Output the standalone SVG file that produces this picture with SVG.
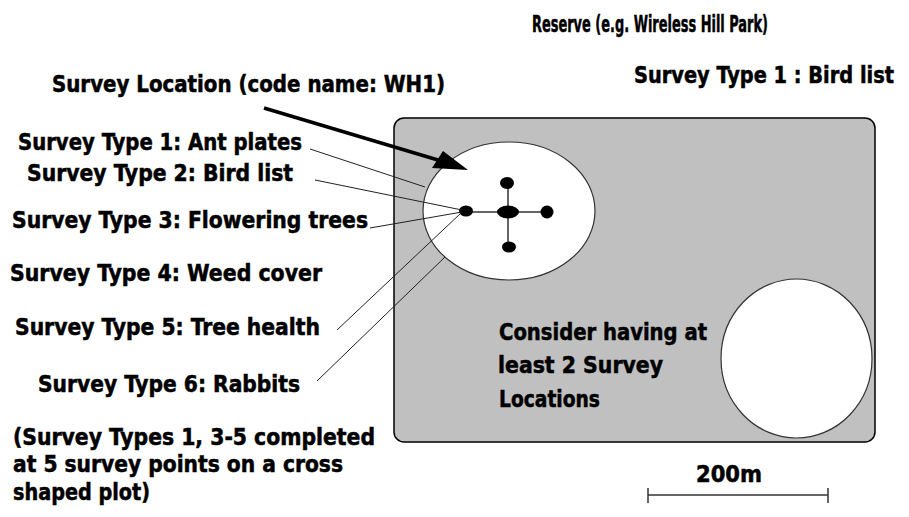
<svg xmlns="http://www.w3.org/2000/svg" width="909" height="517" viewBox="0 0 909 517">
<style>
text{font-family:"DejaVu Sans Condensed","Liberation Sans Narrow","Liberation Sans",sans-serif;font-weight:bold;font-size:23px;fill:#000;stroke:#000;stroke-width:0.5}
.lead{stroke:#222;stroke-width:1;fill:none}
.plot{fill:#fff;stroke:#333;stroke-width:1.2}
.pt{fill:#000}
.cross{stroke:#333;stroke-width:1.5}
.scale{stroke:#333;stroke-width:1.5}
</style>
<rect width="909" height="517" fill="#fff"/>
<g id="reserve">
<rect x="394" y="118" width="481" height="324" rx="10" ry="10" fill="#c0c0c0" stroke="#000" stroke-width="1.5"/>
</g>
<g id="location-wh1">
<ellipse class="plot" cx="509" cy="211" rx="86" ry="69"/>
<line class="cross" x1="466" y1="212" x2="547" y2="212"/>
<line class="cross" x1="508" y1="183" x2="508" y2="247"/>
<ellipse class="pt" cx="507" cy="183" rx="7" ry="6"/>
<ellipse class="pt" cx="508" cy="212" rx="11" ry="6.5"/>
<ellipse class="pt" cx="547" cy="212" rx="6.5" ry="6.5"/>
<ellipse class="pt" cx="509" cy="247" rx="7" ry="5.5"/>
<ellipse class="pt" cx="466" cy="211" rx="7" ry="5.5"/>
</g>
<g id="location-2">
<ellipse class="plot" cx="796.5" cy="358.5" rx="75.5" ry="79.5"/>
</g>
<g id="connectors">
<line class="lead" x1="310" y1="149" x2="425" y2="187"/>
<line class="lead" x1="315" y1="180" x2="462" y2="210"/>
<line class="lead" x1="370" y1="228" x2="462" y2="212"/>
<line class="lead" x1="337" y1="330" x2="461" y2="213"/>
<line class="lead" x1="317" y1="381" x2="445" y2="257"/>
<line x1="264" y1="108" x2="448" y2="163" stroke="#000" stroke-width="3.5"/>
<polygon points="468,170 432,168 443,151" fill="#000"/>
</g>
<g id="labels">
<text x="532" y="32" font-size="21" textLength="236" lengthAdjust="spacingAndGlyphs">Reserve (e.g. Wireless Hill Park)</text>
<text x="634" y="83" font-size="20" textLength="260" lengthAdjust="spacingAndGlyphs">Survey Type 1 : Bird list</text>
<text x="52" y="92" font-size="24" textLength="393" lengthAdjust="spacingAndGlyphs">Survey Location (code name: WH1)</text>
<text x="18" y="150" textLength="284" lengthAdjust="spacingAndGlyphs">Survey Type 1: Ant plates</text>
<text x="27" y="181" textLength="266" lengthAdjust="spacingAndGlyphs">Survey Type 2: Bird list</text>
<text x="12" y="228" textLength="356" lengthAdjust="spacingAndGlyphs">Survey Type 3: Flowering trees</text>
<text x="10" y="281" textLength="312" lengthAdjust="spacingAndGlyphs">Survey Type 4: Weed cover</text>
<text x="15" y="335" textLength="305" lengthAdjust="spacingAndGlyphs">Survey Type 5: Tree health</text>
<text x="38" y="392" textLength="262" lengthAdjust="spacingAndGlyphs">Survey Type 6: Rabbits</text>
<text x="13" y="445" textLength="362" lengthAdjust="spacingAndGlyphs">(Survey Types 1, 3-5 completed</text>
<text x="13" y="472" textLength="330" lengthAdjust="spacingAndGlyphs">at 5 survey points on a cross</text>
<text x="13" y="500" textLength="137" lengthAdjust="spacingAndGlyphs">shaped plot)</text>
<text x="499" y="340" textLength="208" lengthAdjust="spacingAndGlyphs">Consider having at</text>
<text x="498" y="373" textLength="165" lengthAdjust="spacingAndGlyphs">least 2 Survey</text>
<text x="499" y="407" textLength="101" lengthAdjust="spacingAndGlyphs">Locations</text>
</g>
<g id="scale-bar">
<text x="696" y="482" textLength="66" lengthAdjust="spacingAndGlyphs">200m</text>
<line class="scale" x1="648" y1="495" x2="828" y2="495"/>
<line class="scale" x1="648" y1="488" x2="648" y2="503"/>
<line class="scale" x1="828" y1="488" x2="828" y2="503"/>
</g>
</svg>
